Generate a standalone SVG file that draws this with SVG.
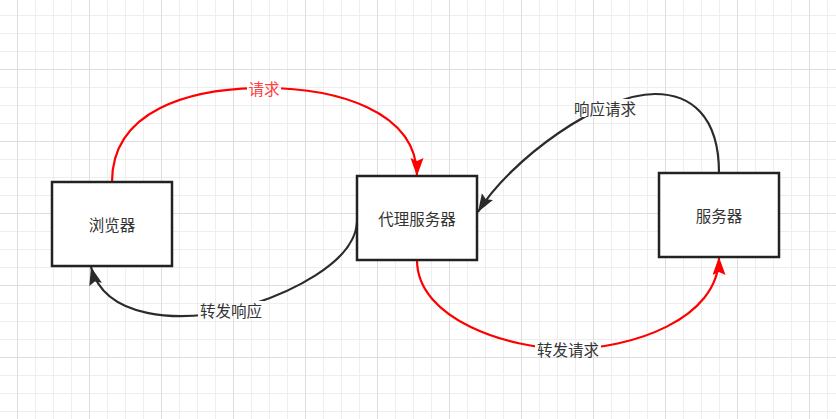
<svg xmlns="http://www.w3.org/2000/svg" width="836" height="419" viewBox="0 0 836 419">
<style>
.box{fill:#ffffff;stroke:#222222;stroke-width:2.5}
.t{font-family:"Noto Sans CJK SC","Noto Sans",sans-serif;font-size:15.5px;fill:#333333;text-anchor:middle;dominant-baseline:central}
.red{fill:none;stroke:#ff0000;stroke-width:2.2}
.dark{fill:none;stroke:#2b2b2b;stroke-width:2.2}
.lr{fill:#ff4040}
</style>
<defs>
<pattern id="grid" patternUnits="userSpaceOnUse" x="17" y="-3" width="72" height="72">
<path d="M18.5,0V72M36.5,0V72M54.5,0V72M0,18.5H72M0,36.5H72M0,54.5H72" stroke="#eeeeee" stroke-width="1" fill="none"/>
<path d="M0.5,0V72M0,0.5H72" stroke="#dedede" stroke-width="1" fill="none"/>
</pattern>
<marker id="ar" markerUnits="userSpaceOnUse" markerWidth="20" markerHeight="14" refX="18" refY="6.5" orient="auto">
<path d="M0,0L18,6.5L0,13L3,6.5z" fill="#ff0000"/>
</marker>
<marker id="ad" markerUnits="userSpaceOnUse" markerWidth="20" markerHeight="14" refX="18" refY="6.5" orient="auto">
<path d="M0,0L18,6.5L0,13L3,6.5z" fill="#2b2b2b"/>
</marker>
<mask id="lm" maskUnits="userSpaceOnUse" x="0" y="0" width="836" height="419">
<rect x="0" y="0" width="836" height="419" fill="#fff"/>
<rect x="247" y="80" width="34" height="17" fill="#000"/>
<rect x="572" y="99" width="65" height="18" fill="#000"/>
<rect x="198" y="301" width="66" height="18" fill="#000"/>
<rect x="535" y="340" width="66" height="18" fill="#000"/>
</mask>
</defs>
<rect x="0" y="0" width="836" height="419" fill="#ffffff"/>
<rect x="0" y="0" width="836" height="419" fill="url(#grid)"/>
<g id="connectors">
<g mask="url(#lm)">
<path id="e-req" class="red" d="M112,182C112,110 190,88 264,88C335,88 417,110 417,176" marker-end="url(#ar)"/>
<path id="e-resp" class="dark" d="M719,173C719,115 690,94 655,94C600,94 510,160 478,212" marker-end="url(#ad)"/>
<path id="e-fwdresp" class="dark" d="M357,222C355,262 290,295 232,310C180,322 105,320 91,267" marker-end="url(#ad)"/>
<path id="e-fwdreq" class="red" d="M417,260C417,320 510,349 568,349C630,349 719,320 719,257" marker-end="url(#ar)"/>
</g>
<text class="t lr" x="264" y="88">请求</text>
<text class="t" x="605" y="108">响应请求</text>
<text class="t" x="231" y="310">转发响应</text>
<text class="t" x="568" y="349">转发请求</text>
</g>
<g id="browser">
<rect class="box" x="52" y="182" width="120" height="84"/>
<text class="t" x="112" y="224">浏览器</text>
</g>
<g id="proxy">
<rect class="box" x="357" y="176" width="120" height="84"/>
<text class="t" x="417" y="218">代理服务器</text>
</g>
<g id="server">
<rect class="box" x="659" y="173" width="120" height="84"/>
<text class="t" x="719" y="215">服务器</text>
</g>
</svg>
